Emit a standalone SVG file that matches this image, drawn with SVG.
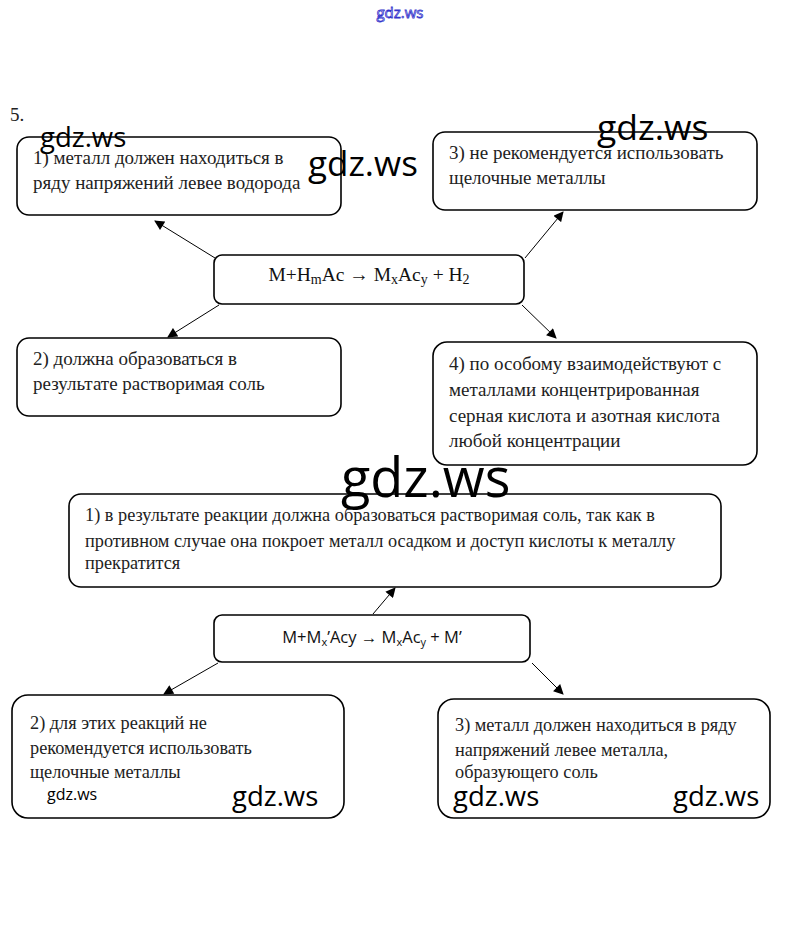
<svg xmlns="http://www.w3.org/2000/svg" width="802" height="927" viewBox="0 0 802 927">
<defs>
<marker id="ah" viewBox="0 0 10 10" refX="9" refY="5" markerWidth="11" markerHeight="10" markerUnits="userSpaceOnUse" orient="auto">
<path d="M0,0 L10,5 L0,10 z" fill="#000"/>
</marker>
<style>
.box{fill:#fff;stroke:#000;stroke-width:1.6}
.t{font-family:"Liberation Serif","Times New Roman",serif;font-size:19px;fill:#222}
.tl{font-family:"Liberation Serif","Times New Roman",serif;font-size:18.3px;fill:#222}
.tb{font-family:"Liberation Serif","Times New Roman",serif;font-size:18.3px;fill:#222}
.f{font-family:"Liberation Serif","Times New Roman",serif;font-size:19.5px;fill:#111}
.fs{font-family:"Open Sans","Noto Sans",sans-serif;font-size:16.5px;fill:#111}
.con{stroke:#000;stroke-width:1;fill:none;marker-end:url(#ah)}
.wm{font-family:"Open Sans","Noto Sans",sans-serif;fill:#000}
</style>
</defs>
<rect width="802" height="927" fill="#fff"/>
<text x="10" y="121" class="t" font-size="17">5.</text>

<g id="connectors">
<line class="con" x1="215" y1="258" x2="155" y2="221"/>
<line class="con" x1="525" y1="258" x2="563" y2="212"/>
<line class="con" x1="219" y1="305" x2="168" y2="337"/>
<line class="con" x1="522" y1="305" x2="556" y2="338"/>
<line class="con" x1="373" y1="614" x2="395" y2="588"/>
<line class="con" x1="218" y1="663" x2="164" y2="694"/>
<line class="con" x1="532" y1="663" x2="563" y2="694"/>
</g>

<g id="node-1">
<rect class="box" x="17" y="137" width="324" height="78" rx="12"/>
<text class="t" x="33" y="164">1) металл должен находиться в</text>
<text class="t" x="33" y="189">ряду напряжений левее водорода</text>
</g>
<g id="node-3">
<rect class="box" x="433" y="132" width="324" height="78" rx="12"/>
<text class="t" x="449" y="159">3) не рекомендуется использовать</text>
<text class="t" x="449" y="184">щелочные металлы</text>
</g>
<g id="reaction-1">
<rect class="box" x="214" y="255" width="310" height="49" rx="8"/>
<text class="f" x="369" y="281" text-anchor="middle">M+H<tspan font-size="14" dy="3">m</tspan><tspan dy="-3">Ac → M</tspan><tspan font-size="14" dy="3">x</tspan><tspan dy="-3">Ac</tspan><tspan font-size="14" dy="3">y</tspan><tspan dy="-3"> + H</tspan><tspan font-size="14" dy="3">2</tspan></text>
</g>
<g id="node-2">
<rect class="box" x="17" y="338" width="324" height="78" rx="12"/>
<text class="t" x="33" y="365">2) должна образоваться в</text>
<text class="t" x="33" y="390">результате растворимая соль</text>
</g>
<g id="node-4">
<rect class="box" x="433" y="342" width="324" height="123" rx="14"/>
<text class="t" x="449" y="370">4) по особому взаимодействуют с</text>
<text class="t" x="449" y="396">металлами концентрированная</text>
<text class="t" x="449" y="422">серная кислота и азотная кислота</text>
<text class="t" x="449" y="447">любой концентрации</text>
</g>

<g id="node-b1">
<rect class="box" x="69" y="494" width="652" height="93" rx="12"/>
<text class="tb" x="85" y="521">1) в результате реакции должна образоваться растворимая соль, так как в</text>
<text class="tb" x="85" y="547">противном случае она покроет металл осадком и доступ кислоты к металлу</text>
<text class="tb" x="85" y="569">прекратится</text>
</g>
<g id="reaction-2">
<rect class="box" x="214" y="615" width="316" height="47" rx="8"/>
<text class="fs" x="372" y="643" text-anchor="middle">M+M<tspan font-size="11" dy="3">x</tspan><tspan dy="-3">’Acy → M</tspan><tspan font-size="11" dy="3">x</tspan><tspan dy="-3">Ac</tspan><tspan font-size="11" dy="3">y</tspan><tspan dy="-3"> + M’</tspan></text>
</g>
<g id="node-b2">
<rect class="box" x="12" y="695" width="332" height="123" rx="16"/>
<text class="tl" x="30" y="729">2) для этих реакций не</text>
<text class="tl" x="30" y="754">рекомендуется использовать</text>
<text class="tl" x="30" y="778">щелочные металлы</text>
</g>
<g id="node-b3">
<rect class="box" x="438" y="699" width="332" height="119" rx="16"/>
<text class="tl" x="455" y="731">3) металл должен находиться в ряду</text>
<text class="tl" x="455" y="756">напряжений левее металла,</text>
<text class="tl" x="455" y="778">образующего соль</text>
</g>

<g id="watermarks">
<text x="400" y="18" text-anchor="middle" font-family="Open Sans, Noto Sans, sans-serif" font-size="15" fill="#fff" stroke="#3333cc" stroke-width="0.8">gdz.ws</text>
<text class="wm" x="40" y="147" font-size="27.5">gdz.ws</text>
<text class="wm" x="308" y="176" font-size="35">gdz.ws</text>
<text class="wm" x="597" y="140" font-size="35.5">gdz.ws</text>
<text class="wm" x="341" y="497" font-size="54">gdz.ws</text>
<text class="wm" x="47" y="800" font-size="16">gdz.ws</text>
<text class="wm" x="232" y="806" font-size="27.5">gdz.ws</text>
<text class="wm" x="453" y="806" font-size="27.5">gdz.ws</text>
<text class="wm" x="673" y="806" font-size="27.5">gdz.ws</text>
</g>
</svg>
